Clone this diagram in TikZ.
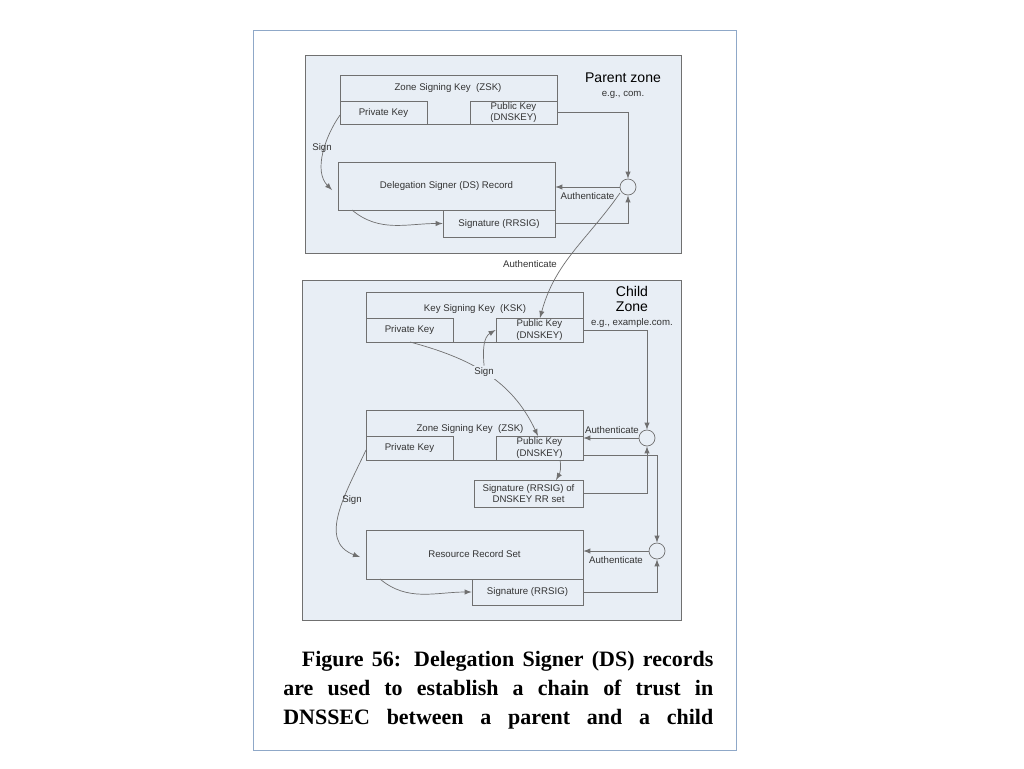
\documentclass[tikz,border=0pt]{standalone}
\usepackage{fontspec}
\setmainfont{Liberation Serif}
\setsansfont{Liberation Sans}
\usetikzlibrary{fit}
\definecolor{zonebg}{HTML}{E8EEF5}
\definecolor{framec}{HTML}{8FA8C8}
\definecolor{linec}{HTML}{707070}
\tikzset{
  zone/.style={draw=linec, fill=zonebg, inner sep=0pt},
  box/.style={draw=linec, inner sep=0pt},
  lbl/.style={font=\sffamily\fontsize{5.5}{6.5}\selectfont, text=black!80, inner sep=1pt, align=center},
  conn/.style={draw=linec, -latex},
  hub/.style={draw=linec, fill=zonebg, circle, minimum size=0.32cm, inner sep=0pt}
}
\begin{document}
\begin{tikzpicture}[x=0.02cm, y=-0.02cm]
  \useasboundingbox (0,0) rectangle (1024,768);
  \draw[framec, fill=white] (253,30) rectangle (736,750);
  % parent zone
  \node[zone, fit={(305,55)(681,253)}] (parent) {};
  \node[box, fit={(340,75)(557,124)}] (pzsk) {};
  \node[lbl] at (448,88) {Zone Signing Key\ \ (ZSK)};
  \node[box, fit={(340,101)(427,124)}] (ppriv) {};
  \node[lbl] at (ppriv.center) {Private Key};
  \node[box, fit={(470,101)(557,124)}] (ppub) {};
  \node[lbl] at (ppub.center) {Public Key\\(DNSKEY)};
  \node[box, fit={(338,162)(555,210)}] (ds) {};
  \node[lbl] at (ds.center) {Delegation Signer (DS) Record};
  \node[box, fit={(443,210)(555,237)}] (dssig) {};
  \node[lbl] at (dssig.center) {Signature (RRSIG)};
  \node[hub] (h1) at (628,187) {};
  \node[font=\sffamily\fontsize{8}{9}\selectfont] at (623,78) {Parent zone};
  \node[lbl] at (623,95) {e.g., com.};
  \draw[conn] (ppub.east) -- (h1 |- ppub.east) -- (h1.north);
  \draw[conn] (h1.west) -- (h1.west -| ds.east) node[lbl, midway, below=2pt] {Authenticate};
  \draw[conn] (dssig.east) -- (h1 |- dssig.east) -- (h1.south);
  \draw[conn] (340,115) to[out=-125, in=135, looseness=0.9] (332,190);
  \node[lbl] at (322,148) {Sign};
  \draw[conn] (352,210) to[out=-40, in=180] (dssig.west);
  % child zone
  \node[zone, fit={(302,280)(681,620)}] (child) {};
  \node[box, fit={(366,292)(583,342)}] (ksk) {};
  \node[lbl] at (475,309) {Key Signing Key\ \ (KSK)};
  \node[box, fit={(366,318)(453,342)}] (kpriv) {};
  \node[lbl] at (kpriv.center) {Private Key};
  \node[box, fit={(496,318)(583,342)}] (kpub) {};
  \node[lbl] at (kpub.center) {Public Key\\(DNSKEY)};
  \node[font=\sffamily\fontsize{8}{9}\selectfont, align=center] at (632,299) {Child\\Zone};
  \node[lbl] at (632,323) {e.g., example.com.};
  \node[box, fit={(366,410)(583,460)}] (czsk) {};
  \node[lbl] at (470,429) {Zone Signing Key\ \ (ZSK)};
  \node[box, fit={(366,436)(453,460)}] (zpriv) {};
  \node[lbl] at (zpriv.center) {Private Key};
  \node[box, fit={(496,436)(583,460)}] (zpub) {};
  \node[lbl] at (zpub.center) {Public Key\\(DNSKEY)};
  \node[box, fit={(474,480)(583,507)}] (ksig) {};
  \node[lbl] at (ksig.center) {Signature (RRSIG) of\\DNSKEY RR set};
  \node[box, fit={(366,530)(583,579)}] (rrset) {};
  \node[lbl] at (rrset.center) {Resource Record Set};
  \node[box, fit={(472,579)(583,605)}] (rrsig) {};
  \node[lbl] at (rrsig.center) {Signature (RRSIG)};
  \node[hub] (h2) at (647,438) {};
  \node[hub] (h3) at (657,551) {};
  \draw[conn] (620,193) to[out=-125, in=75] (540,318);
  \node[lbl] at (530,264) {Authenticate};
  \draw[conn] (kpub.east) -- (h2 |- kpub.east) -- (h2.north);
  \draw[conn] (h2.west) -- (h2.west -| zpub.east);
  \node[lbl] at (612,430) {Authenticate};
  \draw[conn] (ksig.east) -- (h2 |- ksig.east) -- (h2.south);
  \draw[conn] (583,455) -- (h3 |- 583,455) -- (h3.north);
  \draw[conn] (h3.west) -- (h3.west -| rrset.east) node[lbl, midway, below=2pt] {Authenticate};
  \draw[conn] (rrsig.east) -- (h3 |- rrsig.east) -- (h3.south);
  \draw[conn] (410,342) to[out=-15, in=115] node[lbl, pos=0.48, fill=zonebg] (ksign) {Sign} (538,436);
  \draw[conn] (ksign.north) to[out=95, in=210] (kpub.west);
  \draw[conn] (560,460) to[out=-80, in=60] (556,480);
  \draw[conn] (366,450) to[out=-115, in=160, looseness=1.1] (360,557);
  \node[lbl] at (352,500) {Sign};
  \draw[conn] (380,579) to[out=-40, in=180] (rrsig.west);
  % caption
  \node[anchor=north west, inner sep=0pt, align=left, font=\bfseries\fontsize{12.5}{16.5}\selectfont] (cap) at (283,651)
    {\hspace*{0.37cm}\makebox[8.23cm][s]{Figure 56: Delegation Signer (DS) records}\\
     \makebox[8.6cm][s]{are used to establish a chain of trust in}\\
     \makebox[8.6cm][s]{DNSSEC between a parent and a child}};
\end{tikzpicture}
\end{document}
